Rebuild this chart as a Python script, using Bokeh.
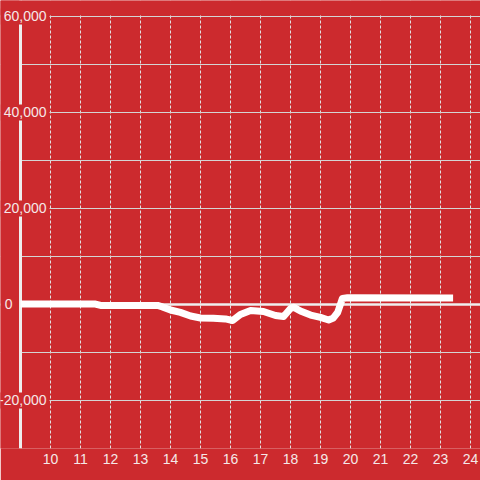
from bokeh.plotting import figure
from bokeh.models import Range1d, FixedTicker, Span, BoxAnnotation, ColumnDataSource
from bokeh.core.properties import value
from bokeh.embed import file_html
from bokeh.resources import INLINE

# ---- data ----
hours = [9.0, 11.5, 11.67, 13.57, 13.73, 14.0, 14.33, 14.67, 15.0, 15.43, 15.83,
         16.07, 16.33, 16.67, 17.1, 17.5, 17.77, 18.0, 18.1, 18.33, 18.67, 19.0,
         19.27, 19.43, 19.57, 19.73, 19.9, 23.42]
values = [100, 100, -200, -200, -500, -1150, -1650, -2400, -2800, -2850, -3000,
          -3330, -2080, -1250, -1460, -2300, -2500, -830, -560, -1350, -2200, -2700,
          -3230, -2800, -1670, 1250, 1400, 1350]

x_ticks = list(range(10, 25))
grid_values = list(range(-30000, 60001, 10000))
label_values = [-20000, 0, 20000, 40000, 60000]
label_texts = ["-20,000", "0", "20,000", "40,000", "60,000"]

# ---- style ----
BG = "#cc2a2e"
TEXT = "#f5e8e8"
FONT = "Liberation Sans"
X_START = 9

p = figure(width=480, height=480, output_backend="svg", toolbar_location=None,
           x_range=Range1d(8.3333, 24.3333), y_range=Range1d(-30000, 63333),
           y_axis_location=None,
           min_border_left=0, min_border_right=0, min_border_top=0, min_border_bottom=32,
           background_fill_color=BG, border_fill_color=BG, outline_line_color=None)

# x axis
p.xaxis.ticker = FixedTicker(ticks=x_ticks)
p.xaxis.axis_line_color = None
p.xaxis.major_tick_line_color = None
p.xaxis.minor_tick_line_color = None
p.xaxis.major_tick_out = 0
p.xaxis.major_tick_in = 0
p.xaxis.major_label_standoff = 5
p.xaxis.major_label_text_font = FONT
p.xaxis.major_label_text_font_size = "14px"
p.xaxis.major_label_text_color = TEXT

# grids
p.xgrid.grid_line_color = "#e2e2e2"
p.xgrid.grid_line_dash = "3 2"
p.xgrid.grid_line_width = 1
p.ygrid.ticker = FixedTicker(ticks=grid_values)
p.ygrid.grid_line_color = "#d4d4d4"
p.ygrid.grid_line_width = 1

p.add_layout(Span(location=0, dimension="width", line_color="#efefef",
                  line_width=2.5, level="underlay"))
# mask: nothing left of the axis
p.add_layout(BoxAnnotation(right=X_START, fill_color=BG, fill_alpha=1,
                           line_color=None, level="underlay"))
# y axis line
p.add_layout(Span(location=X_START, dimension="height", line_color="#eeeeee",
                  line_width=3, level="underlay"))
# mask: nothing above the top grid line
p.add_layout(BoxAnnotation(bottom=60300, fill_color=BG, fill_alpha=1,
                           line_color=None, level="underlay"))

# data line
p.line(hours, values, line_color="white", line_width=7, line_join="round")

# y labels
offsets = [-5 if v == 0 else 29 for v in label_values]
lab_src = ColumnDataSource(dict(x=[X_START] * len(label_values), y=label_values,
                                text=label_texts, xo=offsets))
p.text(x="x", y="y", text="text", x_offset="xo", source=lab_src,
       text_align="right", text_baseline="middle",
       text_font=value(FONT), text_font_size="14px", text_color=TEXT,
       background_fill_color=BG, padding=3)

open("out.html", "w").write(file_html(p, INLINE))
